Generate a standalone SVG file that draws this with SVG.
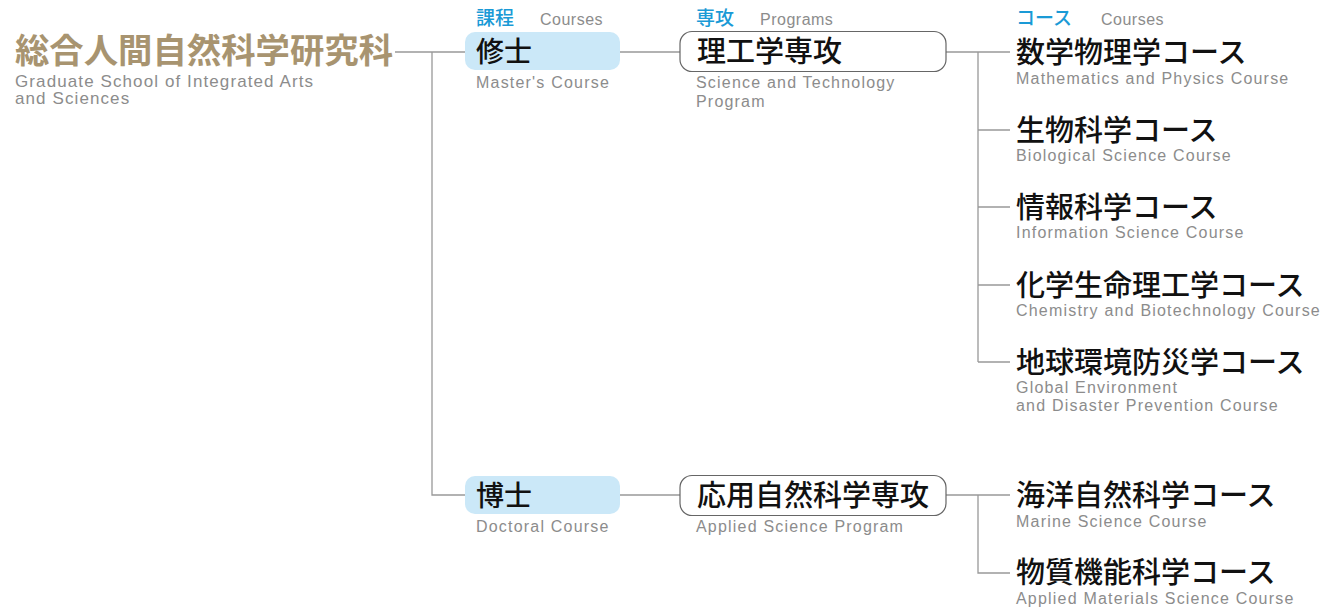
<svg xmlns="http://www.w3.org/2000/svg" width="1336" height="607" viewBox="0 0 1336 607">
<style>
.jp{font-family:"Noto Sans CJK JP","Noto Sans",sans-serif;fill:#111;font-size:29px;font-weight:500}
.en{font-family:"Liberation Sans",Arial,sans-serif;fill:#8c8c8c;font-size:16px;letter-spacing:1.2px}
.hd{font-family:"Noto Sans CJK JP",sans-serif;fill:#1a9ad6;font-size:19px;font-weight:500}
.hde{font-family:"Liberation Sans",Arial,sans-serif;fill:#8c8c8c;font-size:16px;letter-spacing:0.5px}
.title{font-family:"Noto Sans CJK JP",sans-serif;fill:#a89470;font-size:34px;font-weight:bold}
.deg{fill:#cbe8f8}
.prog{fill:#fff;stroke:#666;stroke-width:1.2}
.ln{fill:none;stroke:#999;stroke-width:1.3}
</style>
<rect width="1336" height="607" fill="#fff"/>
<g id="connectors">
<path class="ln" d="M395,52 H465 M432,52 V495 H465"/>
<path class="ln" d="M620,52 H680 M620,495 H680"/>
<path class="ln" d="M946,52 H1010 M978,52 V362 M978,130 H1010 M978,207 H1010 M978,285 H1010 M978,362 H1010"/>
<path class="ln" d="M946,495 H1010 M978,495 V573 H1010"/>
</g>
<g id="headers">
<text class="hd" x="476" y="25">課程</text><text class="hde" x="540" y="25">Courses</text>
<text class="hd" x="696" y="25">専攻</text><text class="hde" x="760" y="25">Programs</text>
<text class="hd" x="1016" y="25">コース</text><text class="hde" x="1101" y="25">Courses</text>
</g>
<g id="school">
<text class="title" x="15" y="63" textLength="378" lengthAdjust="spacingAndGlyphs">総合人間自然科学研究科</text>
<text class="en" x="15" y="87" style="font-size:17px;letter-spacing:1.1px">Graduate School of Integrated Arts</text>
<text class="en" x="15" y="104" style="font-size:17px;letter-spacing:1.1px">and Sciences</text>
</g>
<g id="master">
<rect class="deg" x="465" y="32" width="155" height="38" rx="10"/>
<text class="jp" x="476" y="62" style="font-size:28px">修士</text>
<text class="en" x="476" y="88">Master's Course</text>
</g>
<g id="doctor">
<rect class="deg" x="465" y="476" width="155" height="38" rx="10"/>
<text class="jp" x="476" y="506" style="font-size:28px">博士</text>
<text class="en" x="476" y="532">Doctoral Course</text>
</g>
<g id="prog-st">
<rect class="prog" x="680" y="31.5" width="266" height="40" rx="12"/>
<text class="jp" x="697" y="62">理工学専攻</text>
<text class="en" x="696" y="88">Science and Technology</text>
<text class="en" x="696" y="107">Program</text>
</g>
<g id="prog-as">
<rect class="prog" x="680" y="475.5" width="266" height="40" rx="12"/>
<text class="jp" x="697" y="506">応用自然科学専攻</text>
<text class="en" x="696" y="532">Applied Science Program</text>
</g>
<g id="c1"><text class="jp" x="1016" y="63">数学物理学コース</text><text class="en" x="1016" y="84">Mathematics and Physics Course</text></g>
<g id="c2"><text class="jp" x="1016" y="141">生物科学コース</text><text class="en" x="1016" y="161">Biological Science Course</text></g>
<g id="c3"><text class="jp" x="1016" y="218">情報科学コース</text><text class="en" x="1016" y="238">Information Science Course</text></g>
<g id="c4"><text class="jp" x="1016" y="296">化学生命理工学コース</text><text class="en" x="1016" y="316">Chemistry and Biotechnology Course</text></g>
<g id="c5"><text class="jp" x="1016" y="373">地球環境防災学コース</text><text class="en" x="1016" y="393">Global Environment</text><text class="en" x="1016" y="411">and Disaster Prevention Course</text></g>
<g id="c6"><text class="jp" x="1016" y="506">海洋自然科学コース</text><text class="en" x="1016" y="527">Marine Science Course</text></g>
<g id="c7"><text class="jp" x="1016" y="583">物質機能科学コース</text><text class="en" x="1016" y="604">Applied Materials Science Course</text></g>
</svg>
